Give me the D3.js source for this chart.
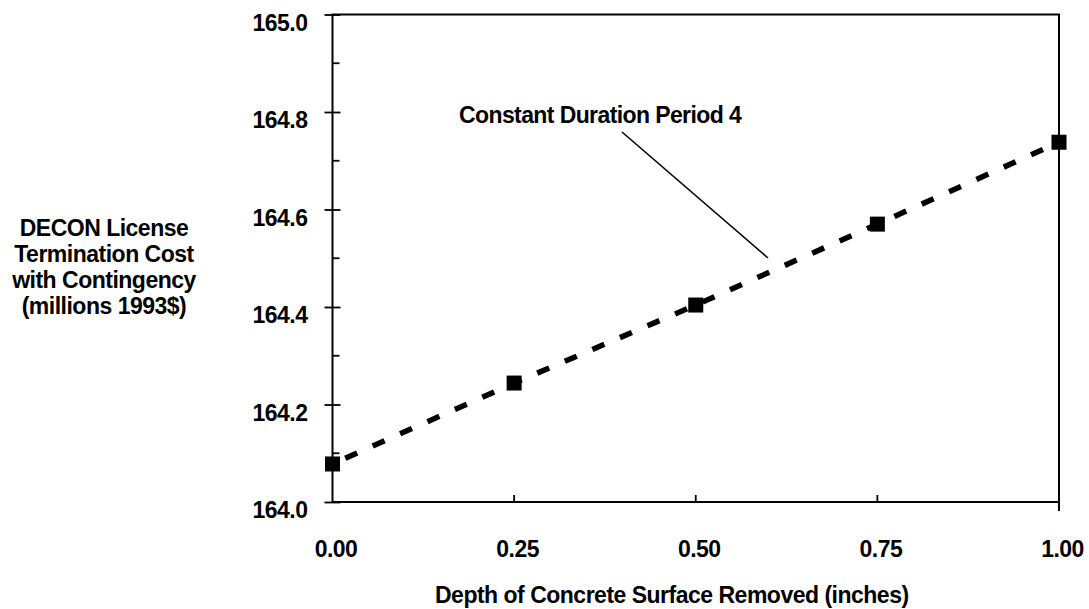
<!DOCTYPE html>
<html><head><meta charset="utf-8">
<script src="https://cdn.jsdelivr.net/npm/d3@7"></script>
<style>
body{margin:0;background:#fff;}
text{font-family:"Liberation Sans",Arial,sans-serif;font-weight:bold;fill:#000;}
</style></head><body>
<svg id="c" width="1089" height="609"></svg>
<script>
const depths = [0.00, 0.25, 0.50, 0.75, 1.00];
const costs = [164.078, 164.244, 164.404, 164.570, 164.738];
const xTicks = [0.00, 0.25, 0.50, 0.75, 1.00];
const yTicks = [164.0, 164.2, 164.4, 164.6, 164.8, 165.0];
const yMinor = [164.1, 164.3, 164.5, 164.7, 164.9];
const yTitle = ["DECON License", "Termination Cost", "with Contingency", "(millions 1993$)"];
const xTitle = "Depth of Concrete Surface Removed (inches)";
const seriesLabel = "Constant Duration Period 4";

const FS = 23, LS = "-0.5";
const svg = d3.select("#c");
const L = 332.5, R = 1059, T = 14.5, B = 502;
const x = d3.scaleLinear().domain([0, 1]).range([L, R]);
const y = d3.scaleLinear().domain([164, 165]).range([B, T]);

// frame
svg.append("rect").attr("x", L).attr("y", T).attr("width", R - L).attr("height", B - T)
  .attr("fill", "none").attr("stroke", "#000").attr("stroke-width", 2);

// y axis major ticks (crossing) with labels
const yAxis = d3.axisLeft(y).tickValues(yTicks).tickFormat(d3.format(".1f")).tickSize(7).tickPadding(18);
const gy = svg.append("g").attr("transform", `translate(${L},0)`).call(yAxis);
gy.select(".domain").remove();
gy.selectAll(".tick line").attr("x1", 8).attr("x2", -8).attr("stroke-width", 1.8);
gy.selectAll(".tick text").attr("font-size", FS).attr("dy", 15.5)
  .attr("font-family", "Liberation Sans, Arial, sans-serif").attr("font-weight", "bold").attr("letter-spacing", LS);
// y minor ticks inside
svg.append("g").selectAll("line").data(yMinor).join("line")
  .attr("x1", L).attr("x2", L + 7).attr("y1", d => y(d)).attr("y2", d => y(d))
  .attr("stroke", "#000").attr("stroke-width", 1.8);

// x axis
const xAxis = d3.axisBottom(x).tickValues(xTicks).tickFormat(d3.format(".2f")).tickSize(0).tickPadding(0);
const gx = svg.append("g").attr("transform", `translate(0,${B})`).call(xAxis);
gx.select(".domain").remove();
gx.selectAll(".tick text").attr("font-size", FS).attr("y", 55).attr("dy", 0).attr("dx", 3)
  .attr("font-family", "Liberation Sans, Arial, sans-serif").attr("font-weight", "bold").attr("letter-spacing", LS);
svg.append("g").selectAll("line").data(xTicks.slice(1, 4)).join("line")
  .attr("x1", d => x(d)).attr("x2", d => x(d)).attr("y1", B).attr("y2", B - 7)
  .attr("stroke", "#000").attr("stroke-width", 1.8);
svg.append("line").attr("x1", x(1)).attr("x2", x(1)).attr("y1", B).attr("y2", B + 9)
  .attr("stroke", "#000").attr("stroke-width", 2);

// dashed line
const line = d3.line().x((d, i) => x(depths[i])).y(d => y(d));
svg.append("path").attr("d", line(costs)).attr("fill", "none").attr("stroke", "#000")
  .attr("stroke-width", 5.5).attr("stroke-dasharray", "13,17").attr("stroke-dashoffset", -14);

// markers
svg.append("g").selectAll("rect").data(costs).join("rect")
  .attr("x", (d, i) => x(depths[i]) - 7.5).attr("y", d => y(d) - 7.5)
  .attr("width", 15).attr("height", 15).attr("fill", "#000");

// annotation
svg.append("text").attr("x", 459).attr("y", 123).attr("font-size", FS).attr("letter-spacing", "-0.6")
  .text(seriesLabel);
svg.append("line").attr("x1", 622).attr("y1", 132).attr("x2", 768).attr("y2", 258)
  .attr("stroke", "#000").attr("stroke-width", 1.6);

// y title
svg.append("g").selectAll("text").data(yTitle).join("text")
  .attr("x", 104).attr("y", (d, i) => 235.5 + i * 26.3).attr("text-anchor", "middle")
  .attr("font-size", FS).attr("letter-spacing", LS).text(d => d);

// x title
svg.append("text").attr("x", 435).attr("y", 603).attr("text-anchor", "start")
  .attr("font-size", FS).attr("letter-spacing", LS).text(xTitle);
</script>
</body></html>
